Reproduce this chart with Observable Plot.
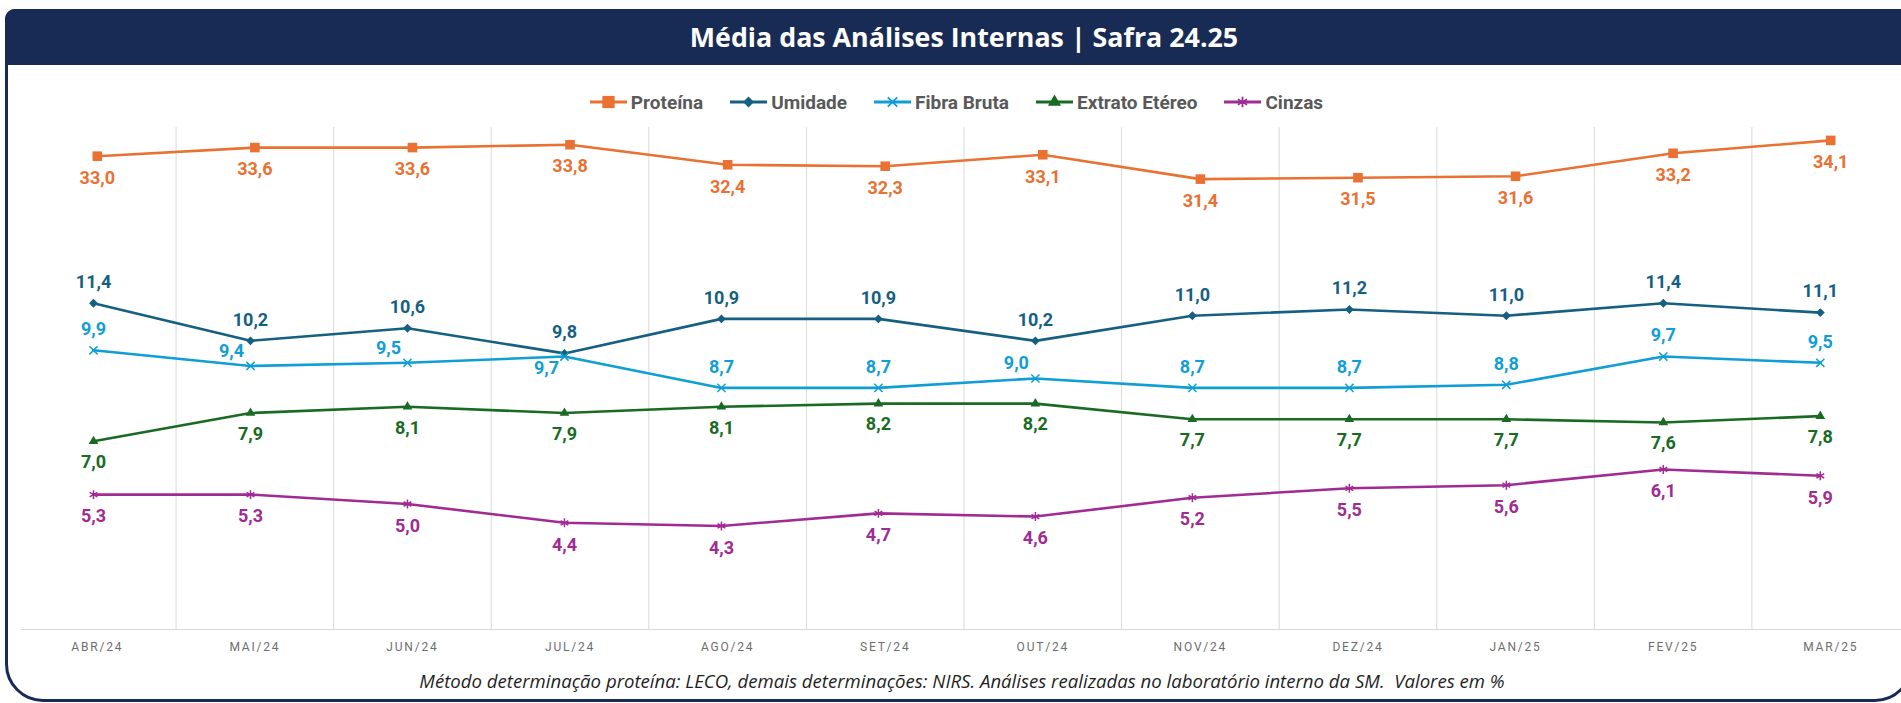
<!DOCTYPE html>
<html>
<head>
<meta charset="utf-8">
<script src="https://cdn.jsdelivr.net/npm/d3@7"></script>
<script src="https://cdn.jsdelivr.net/npm/@observablehq/plot@0.6"></script>
<style>
html, body { margin:0; padding:0; background:#fff; overflow:hidden; width:1901px; height:703px; }
#frame { position:absolute; left:5px; top:9px; width:1908px; height:693px; box-sizing:border-box;
  border:3.5px solid #182b54; border-radius:10px 10px 38px 38px; }
#title { position:absolute; left:5px; top:9px; width:1908px; height:56px; box-sizing:border-box; padding-left:10px;
  background:#182b54; border-radius:10px 10px 0 0; color:#fff; font:700 26.8px "Open Sans", sans-serif;
  line-height:56px; text-align:center; }
#legend { position:absolute; left:0; top:90px; width:1913px; height:24px; display:flex; justify-content:center;
  align-items:center; gap:27px; font:700 19px Roboto, sans-serif; color:#595959; }
#legend .item { display:flex; align-items:center; }
#legend svg { display:block; margin-right:4px; }
#chart { position:absolute; left:0; top:115px; }
#caption { position:absolute; left:0; top:669px; width:1924px; text-align:center;
  font:italic 400 18.6px "Open Sans", sans-serif; color:#1f1f1f; line-height:24px; white-space:pre; }
g[aria-label="x-axis tick label"] text { letter-spacing:1.8px; }
</style>
</head>
<body>
<div id="frame"></div>
<div id="title"></div>
<div id="legend"></div>
<div id="chart"></div>
<div id="caption"></div>
<script>
// ---- data ----
const titleText = "Média das Análises Internas | Safra 24.25";
const captionText = "Método determinação proteína: LECO, demais determinações: NIRS. Análises realizadas no laboratório interno da SM.  Valores em %";
const months = ["ABR/24","MAI/24","JUN/24","JUL/24","AGO/24","SET/24","OUT/24","NOV/24","DEZ/24","JAN/25","FEV/25","MAR/25"];
const seriesNames = ["Proteína","Umidade","Fibra Bruta","Extrato Etéreo","Cinzas"];
const proteina = [33.0,33.6,33.6,33.8,32.4,32.3,33.1,31.4,31.5,31.6,33.2,34.1];
const umidade  = [11.4,10.2,10.6,9.8,10.9,10.9,10.2,11.0,11.2,11.0,11.4,11.1];
const fibra    = [9.9,9.4,9.5,9.7,8.7,8.7,9.0,8.7,8.7,8.8,9.7,9.5];
const extrato  = [7.0,7.9,8.1,7.9,8.1,8.2,8.2,7.7,7.7,7.7,7.6,7.8];
const cinzas   = [5.3,5.3,5.0,4.4,4.3,4.7,4.6,5.2,5.5,5.6,6.1,5.9];

// ---- config ----
const primaryDomain = [1, 17];       // left (primary) value axis
const secondaryDomain = [0, 35];     // right (secondary) value axis, Proteína
const toPrimary = d3.scaleLinear().domain(secondaryDomain).range(primaryDomain);
// the primary-axis series sit on a slightly narrower category axis than the secondary one
const primaryX = d3.scaleLinear().domain([0, 11]).range([-0.024, 10.934]);
const fibraPlacement = ["top","top-left","top-left","bottom-left","top","top","top-left","top","top","top","top","top"];

const series = [
  {name: seriesNames[0], values: proteina, color:"#e97132", symbol:"square",   r:5.4, filled:true,  map: toPrimary, xmap: i=>i,     place:"bottom", dy:22},
  {name: seriesNames[1], values: umidade,  color:"#156082", symbol:"diamond2", r:4.0, filled:true,  map: v=>v,      xmap: primaryX, place:"top",    dy:-21},
  {name: seriesNames[2], values: fibra,    color:"#0f9ed5", symbol:"times",    r:3.8, filled:false, map: v=>v,      xmap: primaryX, place:"fibra",  dy:-21},
  {name: seriesNames[3], values: extrato,  color:"#196b24", symbol:"triangle", r:3.6, filled:true,  map: v=>v,      xmap: primaryX, place:"bottom", dy:21},
  {name: seriesNames[4], values: cinzas,   color:"#a02b93", symbol:"asterisk", r:4.2, filled:false, map: v=>v,      xmap: primaryX, place:"bottom", dy:22}
];

const fmt = v => d3.format(".1f")(v).replace(".", ",");

document.getElementById("title").textContent = titleText;
document.getElementById("caption").textContent = captionText;

// ---- legend ----
const legendSymbols = {square: d3.symbolSquare, diamond2: d3.symbolDiamond2, times: d3.symbolTimes, triangle: d3.symbolTriangle, asterisk: d3.symbolAsterisk};
const legendSize = {square: 150, diamond2: 75, times: 60, triangle: 75, asterisk: 80};
const legend = d3.select("#legend");
series.forEach(s => {
  const item = legend.append("div").attr("class","item");
  const svg = item.append("svg").attr("width", 37).attr("height", 16);
  svg.append("line").attr("x1",0).attr("x2",37).attr("y1",8).attr("y2",8).attr("stroke", s.color).attr("stroke-width",3);
  svg.append("path").attr("transform","translate(18.5,8)")
    .attr("d", d3.symbol(legendSymbols[s.symbol], legendSize[s.symbol])())
    .attr("fill", s.filled ? s.color : "none")
    .attr("stroke", s.color).attr("stroke-width", s.filled ? 0 : 1.8);
  item.append("span").text(s.name);
});

// ---- rows ----
const rows = series.map(s => s.values.map((v, i) => ({name: s.name, i, x: s.xmap(i), v, y: s.map(v)})));

const labelMarks = [];
series.forEach((s, k) => {
  const base = {x: "x", y: "y", text: d => fmt(d.v), fill: s.color, fontSize: 18, fontWeight: 700, fontFamily: "Roboto, sans-serif", lineAnchor: "middle"};
  if (s.place === "fibra") {
    labelMarks.push(Plot.text(rows[k].filter(d => fibraPlacement[d.i] === "top"), {...base, dy: -21}));
    labelMarks.push(Plot.text(rows[k].filter(d => fibraPlacement[d.i] === "top-left"), {...base, dy: -15, dx: -19}));
    labelMarks.push(Plot.text(rows[k].filter(d => fibraPlacement[d.i] === "bottom-left"), {...base, dy: 12, dx: -18}));
  } else {
    labelMarks.push(Plot.text(rows[k], {...base, dy: s.dy}));
  }
});

const chart = Plot.plot({
  width: 1901,
  height: 545,
  marginTop: 12,
  marginBottom: 31,
  marginLeft: 21,
  marginRight: 0,
  style: {background: "transparent", overflow: "visible", maxWidth: "none"},
  x: {domain: [-0.5, months.length - 0.5], range: [18, 1909], axis: null, label: null},
  y: {domain: primaryDomain, axis: null, label: null},
  marks: [
    Plot.ruleX(d3.range(months.length - 1).map(i => i + 0.5), {stroke: "#d9d9d9", strokeWidth: 1}),
    Plot.ruleY([primaryDomain[0]], {stroke: "#d9d9d9", strokeWidth: 1.2}),
    Plot.axisX({ticks: d3.range(months.length), tickFormat: i => months[i], tickSize: 0, tickPadding: 13, label: null,
      fontSize: 12, fontWeight: 400, fontFamily: "Roboto, sans-serif", fill: "#6e6e6e"}),
    ...series.map((s, k) => Plot.line(rows[k], {x: "x", y: "y", stroke: s.color, strokeWidth: 2.6})),
    ...series.map((s, k) => Plot.dot(rows[k], {x: "x", y: "y", symbol: () => s.symbol, r: s.r,
      fill: s.filled ? s.color : "none", stroke: s.color, strokeWidth: s.filled ? 0 : 1.5})),
    ...labelMarks
  ]
});
document.getElementById("chart").appendChild(chart);
</script>
</body>
</html>
